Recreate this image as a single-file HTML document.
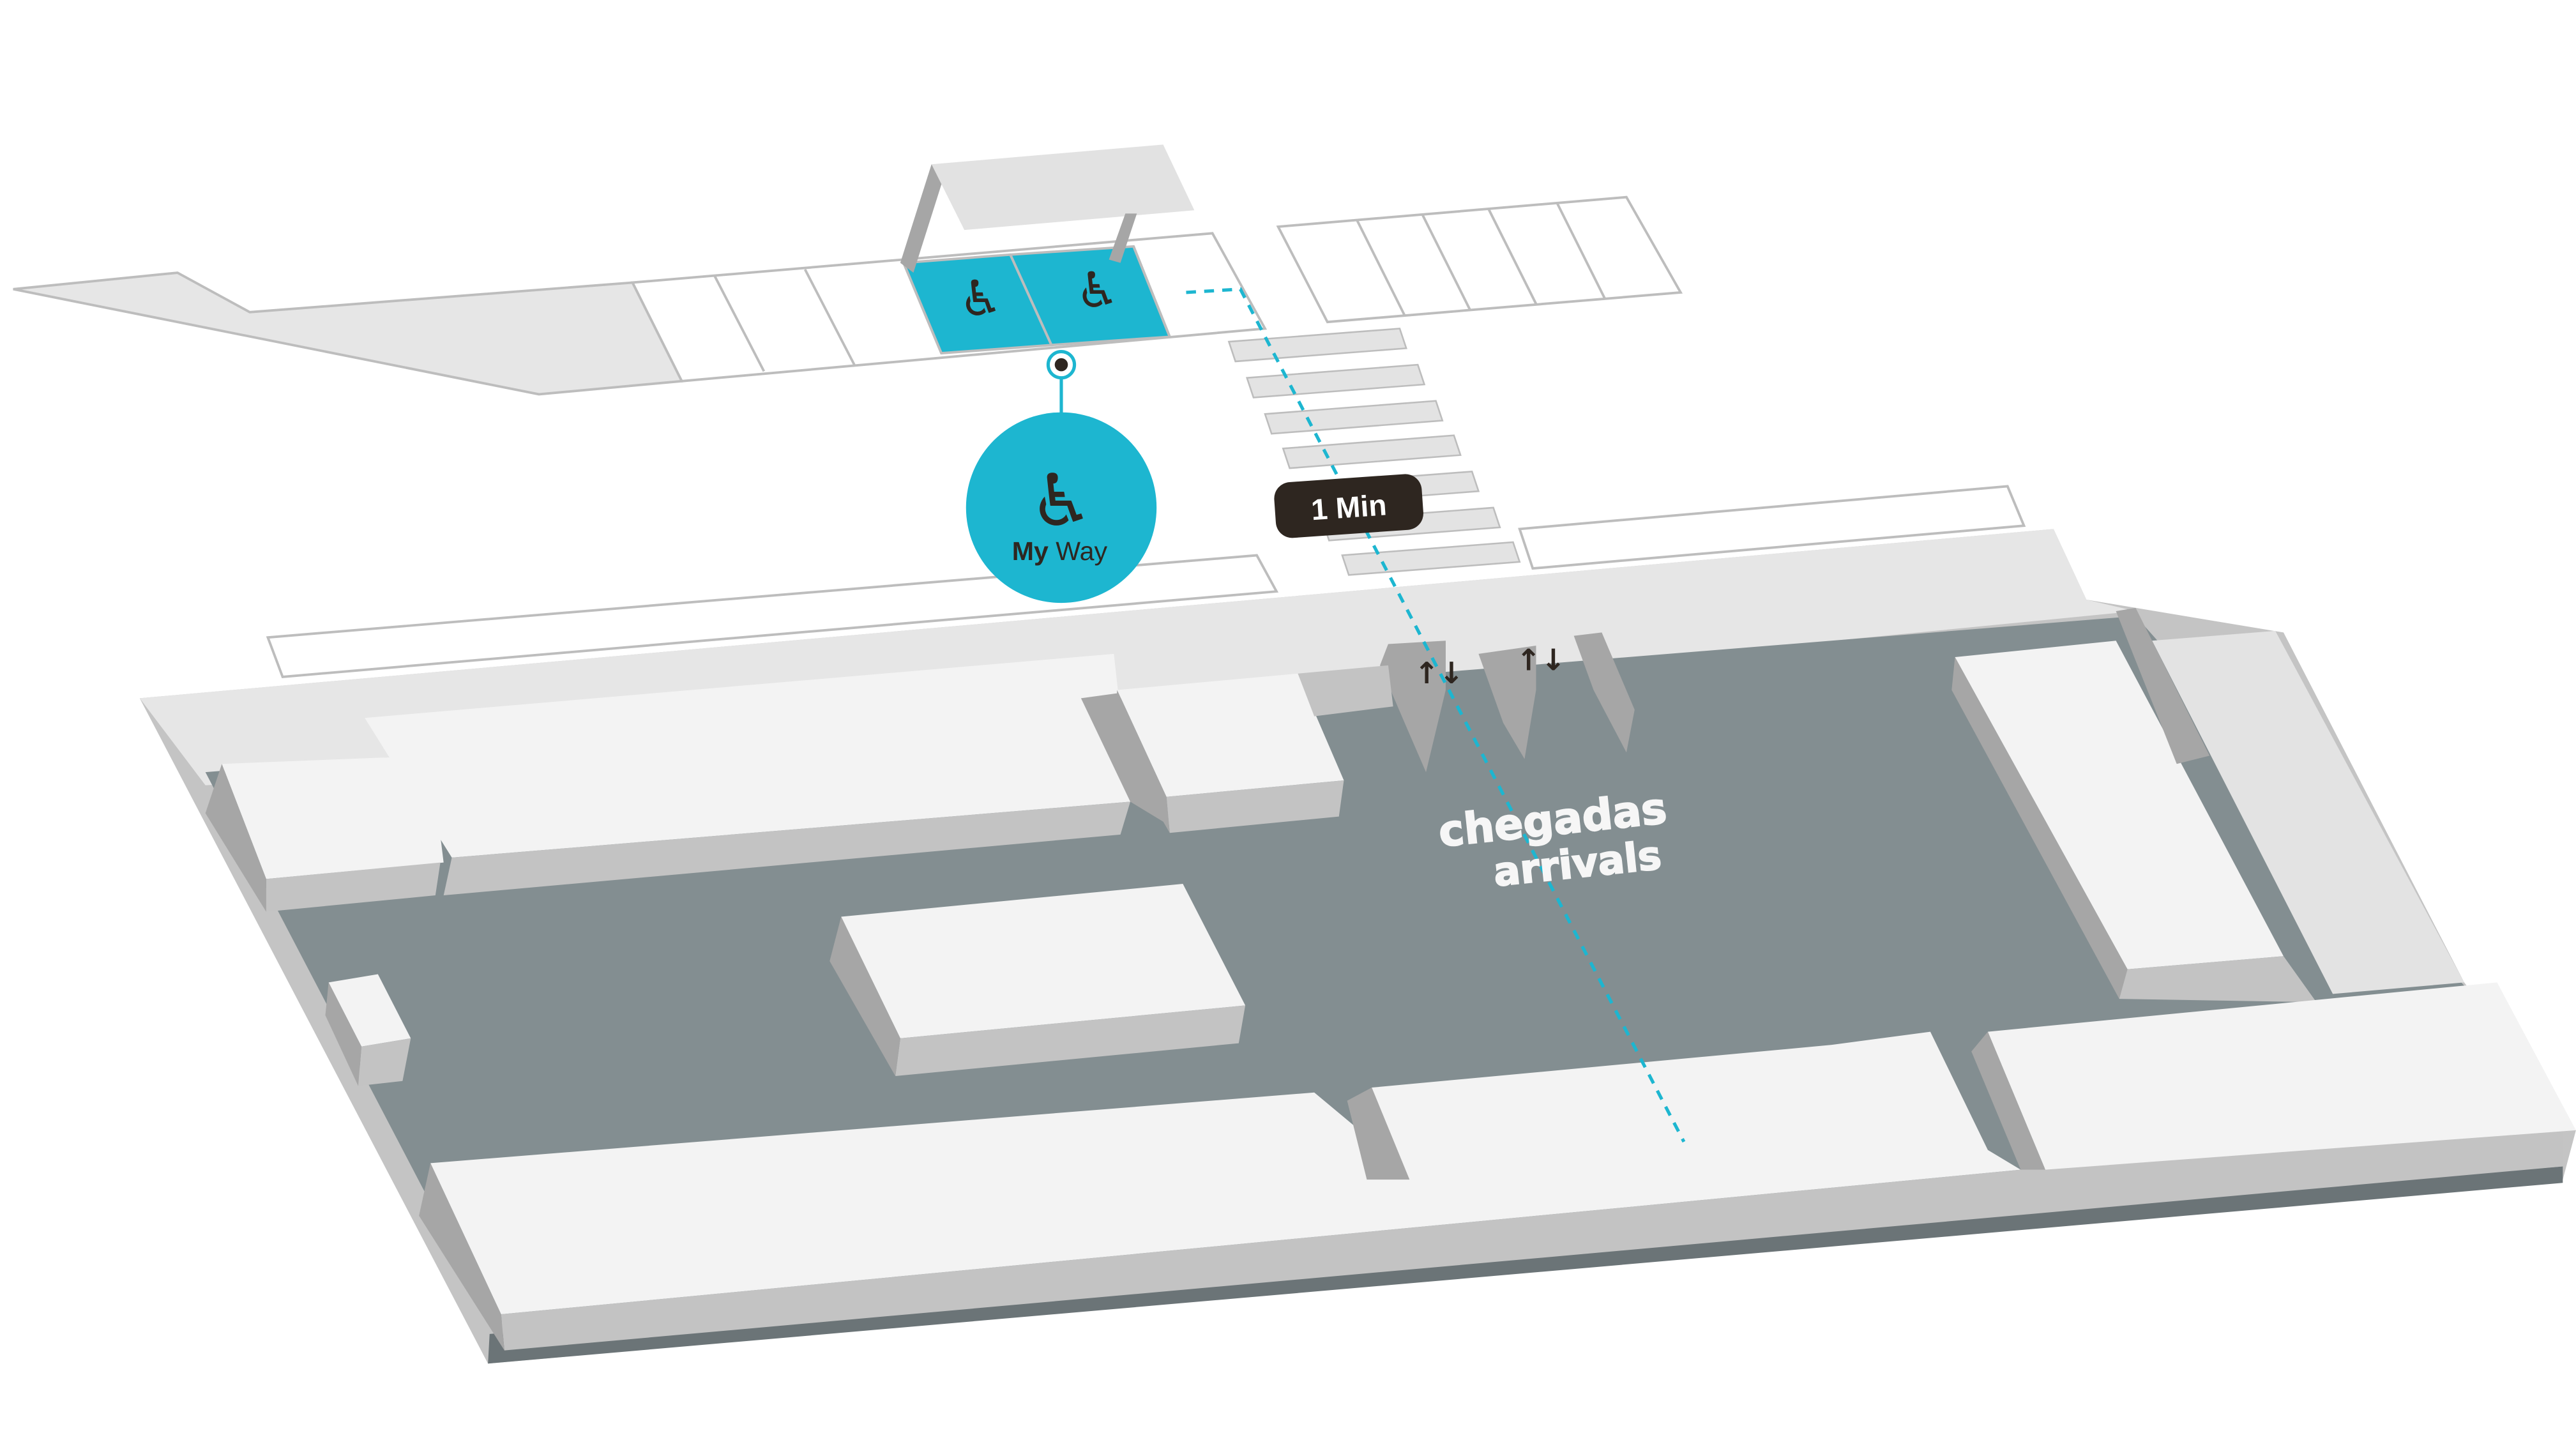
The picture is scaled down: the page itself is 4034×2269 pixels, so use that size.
<!DOCTYPE html>
<html><head><meta charset="utf-8"><style>
html,body{margin:0;padding:0;background:#fff;}
svg{display:block;}
</style></head><body>
<svg width="4034" height="2269" viewBox="0 0 1568 882" xmlns="http://www.w3.org/2000/svg">
<rect width="1568" height="882" fill="#fff"/>
<g stroke="#bdbdbd" stroke-width="1.5">
<polygon points="8,176 108,166 152,190 385,172 415,232 328,240" fill="#e6e6e6"/>
<polygon points="385,172 738,142 770,200 415,232" fill="#fff"/>
<polygon points="550,160 615,155 640,210 573,215" fill="#1db6d0"/>
<polygon points="615,155 690,150 712,205 640,210" fill="#1db6d0"/>
<line x1="435" y1="168" x2="465" y2="226"/><line x1="490" y1="164" x2="520" y2="222"/>
<line x1="550" y1="160" x2="573" y2="215"/><line x1="615" y1="155" x2="640" y2="210"/><line x1="690" y1="150" x2="712" y2="205"/>
<polygon points="778,138 990,120 1023,178 808,196" fill="#fff"/>
<line x1="826" y1="134" x2="855" y2="192"/><line x1="866" y1="131" x2="895" y2="189"/><line x1="906" y1="127" x2="935" y2="185"/><line x1="948" y1="124" x2="977" y2="182"/>
<polygon points="163,388 765,338 777,360 172,412" fill="#fff"/>
<polygon points="925,322 1222,296 1232,320 933,346" fill="#fff"/>
</g>
<polygon points="567,100 548,160 556,166 575,106" fill="#a6a6a6"/>
<polygon points="567,100 708,88 727,128 587,140" fill="#e2e2e2"/>
<polygon points="685,130 675,158 682,160 692,130" fill="#a6a6a6"/>
<text x="597" y="192" font-family="DejaVu Sans" font-size="30" fill="#2e2620" text-anchor="middle">♿</text>
<text x="668" y="187" font-family="DejaVu Sans" font-size="30" fill="#2e2620" text-anchor="middle">♿</text>
<g fill="#e3e3e3" stroke="#bdbdbd" stroke-width="1">
<polygon points="748,208 852,200 856,212 752,220"/>
<polygon points="759,230 863,222 867,234 763,242"/>
<polygon points="770,252 874,244 878,256 774,264"/>
<polygon points="781,273 885,265 889,277 785,285"/>
<polygon points="792,295 896,287 900,299 796,307"/>
<polygon points="805,317 909,309 913,321 809,329"/>
<polygon points="817,338 921,330 925,342 821,350"/>
</g>
<polygon points="85,425 1250,322 1270,365 1390,385 1500,598 1568,688 1560,718 297,830" fill="#c4c4c4"/>
<polygon points="85,425 1250,322 1270,365 1300,372 300,470 125,478" fill="#e6e6e6"/>
<polygon points="298,812 1560,710 1560,720 297,830" fill="#6b7477"/>
<polygon points="125,470 1300,375 1500,600 1560,700 300,805" fill="#838e91"/>
<polygon points="1310,390 1385,384 1500,598 1420,605" fill="#e3e3e3"/>
<polygon points="845,392 880,390 880,420 868,470 855,440 840,405" fill="#a6a6a6"/>
<polygon points="900,398 935,393 935,420 928,462 915,440" fill="#a6a6a6"/>
<polygon points="958,387 975,385 995,432 990,458 970,420" fill="#a6a6a6"/>
<polygon points="222,437 678,398 688,488 275,522" fill="#f3f3f3"/>
<polygon points="275,522 688,488 682,508 270,545" fill="#c3c3c3"/>
<polygon points="658,425 680,422 716,505 688,488" fill="#a6a6a6"/>
<polygon points="135,465 262,460 270,525 162,535" fill="#f3f3f3"/>
<polygon points="162,535 268,525 265,545 162,555" fill="#c3c3c3"/>
<polygon points="135,465 125,495 162,555 162,535" fill="#a6a6a6"/>
<polygon points="680,420 790,410 818,475 710,485" fill="#f3f3f3"/>
<polygon points="710,485 818,475 815,497 712,507" fill="#c3c3c3"/>
<polygon points="680,420 678,448 712,507 710,485" fill="#a6a6a6"/>
<polygon points="790,410 845,405 848,430 800,436" fill="#c3c3c3"/>
<polygon points="512,558 720,538 758,612 548,632" fill="#f3f3f3"/>
<polygon points="548,632 758,612 754,635 545,655" fill="#c3c3c3"/>
<polygon points="512,558 505,585 545,655 548,632" fill="#a6a6a6"/>
<polygon points="200,598 230,593 250,632 220,637" fill="#f3f3f3"/>
<polygon points="220,637 250,632 245,658 218,661" fill="#c3c3c3"/>
<polygon points="200,598 198,618 218,661 220,637" fill="#a6a6a6"/>
<polygon points="1190,400 1288,390 1390,582 1295,590" fill="#f3f3f3"/>
<polygon points="1190,400 1188,420 1290,608 1295,590" fill="#a6a6a6"/>
<polygon points="1288,372 1300,370 1345,460 1325,465" fill="#a6a6a6"/>
<polygon points="1295,590 1390,582 1410,610 1290,608" fill="#c3c3c3"/>
<polygon points="262,708 800,665 830,690 835,662 1115,636 1175,628 1210,700 1230,712 305,800" fill="#f3f3f3"/>
<polygon points="305,800 1230,712 1560,688 1560,710 307,822" fill="#c3c3c3"/>
<polygon points="262,708 255,740 307,822 305,800" fill="#a6a6a6"/>
<polygon points="820,670 835,662 858,718 832,718" fill="#a6a6a6"/>
<polygon points="1210,628 1520,598 1568,688 1245,712" fill="#f3f3f3"/>
<polygon points="1210,628 1200,640 1230,712 1245,712" fill="#a6a6a6"/>
<polyline points="722,178 755,176 1025,695" fill="none" stroke="#1db6d0" stroke-width="2" stroke-dasharray="6,5"/>
<text x="876" y="416" font-family="DejaVu Sans" font-size="18" fill="#2e2620" text-anchor="middle" font-weight="bold">↑↓</text>
<text x="938" y="408" font-family="DejaVu Sans" font-size="18" fill="#2e2620" text-anchor="middle" font-weight="bold">↑↓</text>
<line x1="646" y1="222" x2="646" y2="255" stroke="#1db6d0" stroke-width="2"/>
<circle cx="646" cy="222" r="8" fill="#fff" stroke="#1db6d0" stroke-width="2"/>
<circle cx="646" cy="222" r="4" fill="#2e2620"/>
<circle cx="646" cy="309" r="58" fill="#1db6d0"/>
<text x="646" y="320" font-family="DejaVu Sans" font-size="44" fill="#2e2620" text-anchor="middle">♿</text>
<text x="645" y="341" font-family="Liberation Sans, sans-serif" font-size="16" fill="#2e2620" text-anchor="middle"><tspan font-weight="bold">My</tspan> Way</text>
<g transform="rotate(-4 821 308)">
<rect x="776" y="291" width="90" height="34" rx="10" fill="#2e2620"/>
<text x="821" y="315" font-family="Liberation Sans, sans-serif" font-size="18" fill="#fff" text-anchor="middle" font-weight="bold">1 Min</text>
</g>
<g font-family="DejaVu Sans, sans-serif" font-weight="bold" fill="#f6f6f6" text-anchor="middle" stroke="#f6f6f6" stroke-width="0.8">
<text x="946" y="508" font-size="26" transform="rotate(-6 946 508)">chegadas</text>
<text x="961" y="534" font-size="24" transform="rotate(-6 961 534)">arrivals</text>
</g>
</svg>
</body></html>
